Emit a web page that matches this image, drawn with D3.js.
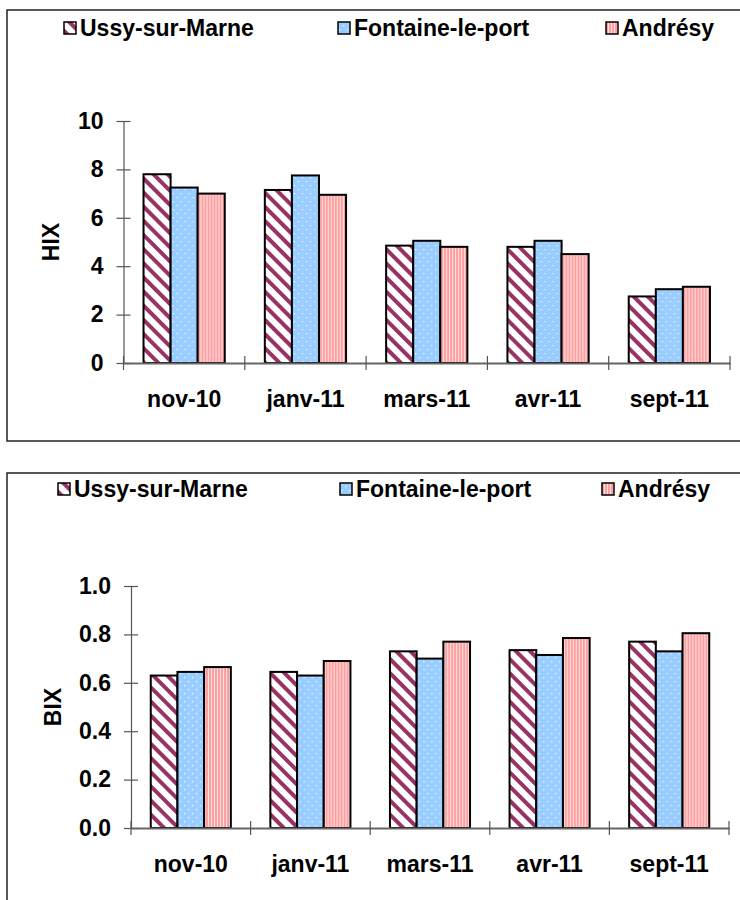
<!DOCTYPE html>
<html><head><meta charset="utf-8">
<script src="https://cdn.jsdelivr.net/npm/d3@7"></script>
<style>
html,body{margin:0;padding:0;background:#fff;}
svg{display:block;}
text{font-family:"Liberation Sans",Arial,sans-serif;font-weight:bold;fill:#000;}
</style></head>
<body>
<svg id="c" width="740" height="900"></svg>
<script>
const categories = ["nov-10","janv-11","mars-11","avr-11","sept-11"];
const seriesNames = ["Ussy-sur-Marne","Fontaine-le-port","Andrésy"];
const hixUssy = [7.8, 7.15, 4.85, 4.8, 2.75];
const hixFontaine = [7.25, 7.75, 5.05, 5.05, 3.05];
const hixAndresy = [7.0, 6.95, 4.8, 4.5, 3.15];
const bixUssy = [0.63, 0.645, 0.73, 0.735, 0.77];
const bixFontaine = [0.645, 0.63, 0.70, 0.715, 0.73];
const bixAndresy = [0.665, 0.69, 0.77, 0.785, 0.805];
const hixTicks = [0, 2, 4, 6, 8, 10];
const bixTicks = [0, 0.2, 0.4, 0.6, 0.8, 1.0];

const FS = 23;
const svg = d3.select("#c");
const defs = svg.append("defs");

const p1 = defs.append("pattern").attr("id","pUssy").attr("patternUnits","userSpaceOnUse")
  .attr("width",10).attr("height",10).attr("patternTransform","rotate(45)");
p1.append("rect").attr("width",10).attr("height",10).attr("fill","#fff");
p1.append("rect").attr("y",0).attr("width",10).attr("height",4).attr("fill","#993366");
const p2 = defs.append("pattern").attr("id","pFont").attr("patternUnits","userSpaceOnUse")
  .attr("width",8).attr("height",8);
p2.append("rect").attr("width",8).attr("height",8).attr("fill","#99ccff");
p2.append("rect").attr("x",1).attr("y",1).attr("width",1.3).attr("height",1.3).attr("fill","#eef6ff");
p2.append("rect").attr("x",5).attr("y",5).attr("width",1.3).attr("height",1.3).attr("fill","#eef6ff");
const p3 = defs.append("pattern").attr("id","pAnd").attr("patternUnits","userSpaceOnUse")
  .attr("width",3).attr("height",3);
p3.append("rect").attr("width",3).attr("height",3).attr("fill","#ffe4e4");
p3.append("rect").attr("width",2).attr("height",3).attr("fill","#ff9e9e");

const fills = ["url(#pUssy)","url(#pFont)","url(#pAnd)"];

function drawChart(cfg){
  const g = svg.append("g");
  g.append("rect").attr("x",cfg.frame[0]).attr("y",cfg.frame[1])
    .attr("width",cfg.frame[2]).attr("height",cfg.frame[3])
    .attr("fill","none").attr("stroke","#222").attr("stroke-width",1.5);

  const x0 = d3.scaleBand().domain(categories).range([cfg.left, cfg.right]).padding(0);
  const x1 = d3.scaleBand().domain(seriesNames).range([0, x0.bandwidth()])
    .paddingInner(0).paddingOuter(0.74);
  const y = d3.scaleLinear().domain([0, cfg.max]).range([cfg.bottom, cfg.top]);

  const data = categories.map((c,i)=>({cat:c, vals: cfg.series.map((s,j)=>({name:seriesNames[j], v:s[i], j}))}));

  const groups = g.selectAll("g.grp").data(data).join("g").attr("class","grp")
    .attr("transform", d=>`translate(${x0(d.cat)},0)`);
  groups.selectAll("rect").data(d=>d.vals).join("rect")
    .attr("x", d=>x1(d.name)).attr("width", x1.bandwidth())
    .attr("y", d=>y(d.v)).attr("height", d=>y(0)-y(d.v))
    .attr("fill", d=>fills[d.j]).attr("stroke","#000").attr("stroke-width",2);

  const ya = g.append("g").attr("transform",`translate(${cfg.left},0)`)
    .call(d3.axisLeft(y).tickValues(cfg.ticks).tickFormat(cfg.fmt).tickSizeInner(7).tickSizeOuter(0).tickPadding(13));
  ya.select(".domain").attr("stroke","#555").attr("stroke-width",1.2);
  ya.selectAll(".tick line").attr("x1",-7).attr("x2",7).attr("stroke","#555").attr("stroke-width",1.2);
  ya.selectAll(".tick text").attr("font-size",FS).attr("font-family","Liberation Sans, Arial, sans-serif")
    .attr("font-weight","bold").attr("fill","#000");

  const xa = g.append("g").attr("transform",`translate(0,${cfg.bottom})`)
    .call(d3.axisBottom(x0).tickSize(0).tickPadding(28));
  xa.select(".domain").attr("stroke","#666").attr("stroke-width",2);
  xa.selectAll(".tick text").attr("font-size",FS).attr("font-family","Liberation Sans, Arial, sans-serif")
    .attr("font-weight","bold").attr("fill","#000");
  const bounds = categories.map(c=>x0(c)).concat([cfg.right]);
  xa.selectAll("line.sep").data(bounds).join("line").attr("class","sep")
    .attr("x1",d=>d).attr("x2",d=>d).attr("y1",-7).attr("y2",7)
    .attr("stroke","#555").attr("stroke-width",1.2);

  g.append("text").attr("transform",`translate(${cfg.titleX},${(cfg.top+cfg.bottom)/2}) rotate(-90)`)
    .attr("text-anchor","middle").attr("dominant-baseline","central").attr("font-size",FS).text(cfg.title);

  const lg = g.selectAll("g.leg").data(seriesNames).join("g").attr("class","leg")
    .attr("transform",(d,i)=>`translate(${cfg.legX[i]},${cfg.legY})`);
  lg.append("rect").attr("x",0).attr("y",-6).attr("width",12).attr("height",12)
    .attr("fill",(d,i)=>fills[i]).attr("stroke","#000").attr("stroke-width",1.5);
  lg.append("text").attr("x",16).attr("y",0).attr("dominant-baseline","central")
    .attr("font-size",FS).text(d=>d);
}

drawChart({frame:[7,10,745,431], left:123.5, right:730, top:121, bottom:363, max:10,
  ticks:hixTicks, fmt:d3.format("d"), series:[hixUssy,hixFontaine,hixAndresy],
  title:"HIX", titleX:51, legX:[64,338,606], legY:28});
drawChart({frame:[7,473,745,440], left:131, right:729, top:586, bottom:828, max:1.0,
  ticks:bixTicks, fmt:d3.format(".1f"), series:[bixUssy,bixFontaine,bixAndresy],
  title:"BIX", titleX:53, legX:[58,340,602], legY:489});
</script>
</body></html>
